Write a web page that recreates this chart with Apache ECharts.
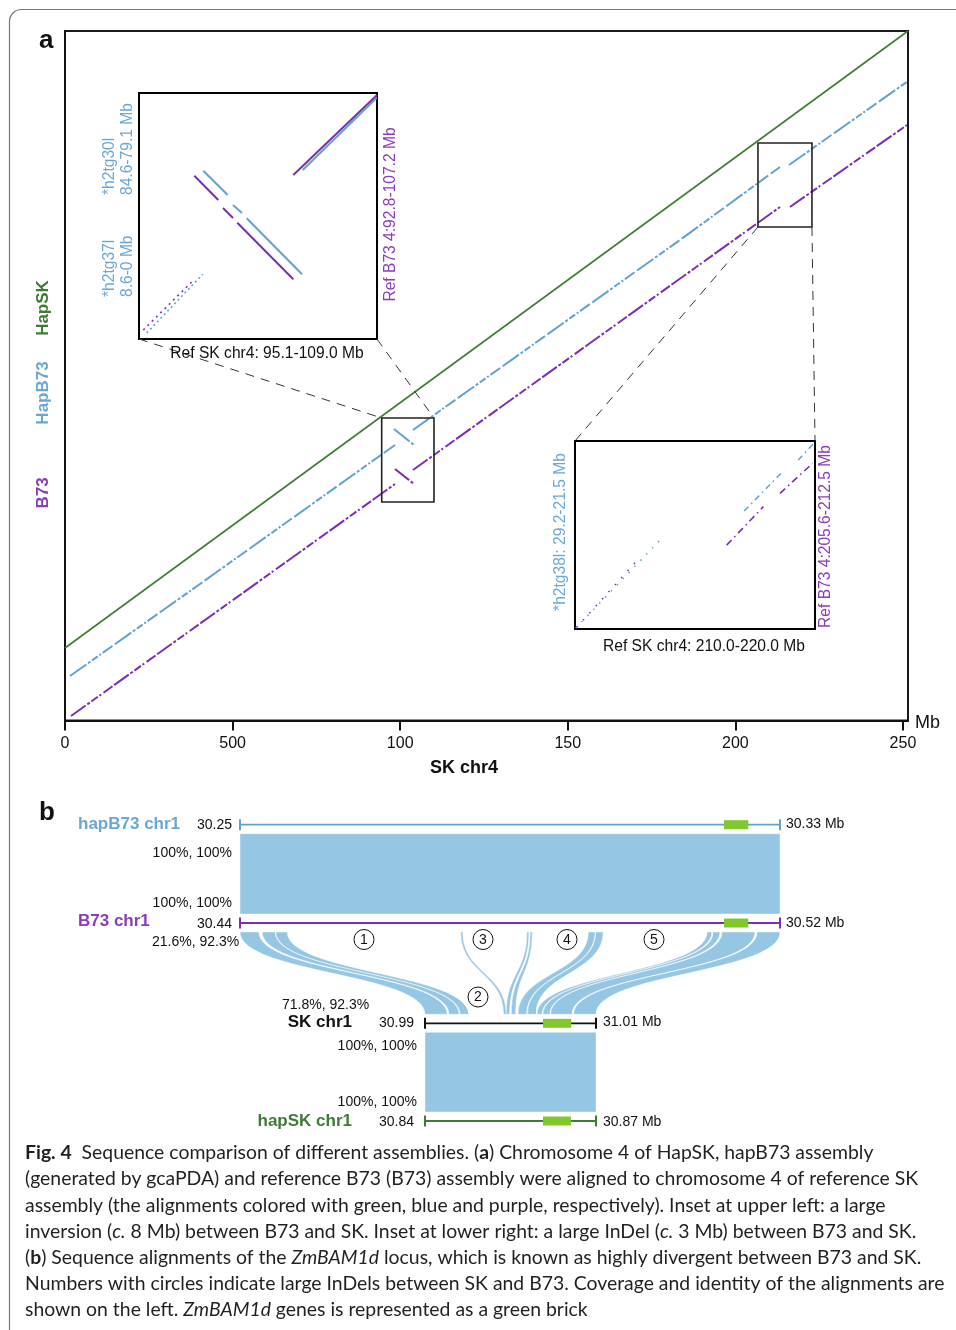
<!DOCTYPE html>
<html><head><meta charset="utf-8">
<script src="https://cdn.jsdelivr.net/npm/echarts@6/dist/echarts.min.js"></script>
<style>html,body{margin:0;padding:0;background:#fff}#c{width:956px;height:1330px}</style>
</head><body><div id="c"></div>
<script>
// ================= DATA =================
// Panel a: SK chr4 (x, Mb) vs stacked query positions (y)
const xTickValues = [0, 50, 100, 150, 200, 250];
const xTickLabels = ['0', '500', '100', '150', '200', '250'];
const hapSKLine = [[0, 29.44], [251.5, 280]];
const hapB73Segments = [
  [[1.49, 18.07], [40.27, 55.43], [98.45, 111.88]],
  [[98.15, 118.38], [104.12, 111.88]],
  [[103.82, 117.97], [183.47, 195.12], [213.31, 224.77]],
  [[215.99, 225.59], [251.19, 259.34]]
];
const b73Segments = [
  [[1.79, 1.83], [98.45, 96.04]],
  [[98.45, 102.13], [104.12, 96.04]],
  [[103.82, 101.72], [213.31, 208.53]],
  [[216.29, 208.53], [251.19, 241.81]]
];
const zoomBoxes = [[94.48, 88.73, 110.08, 122.84], [206.74, 200.41, 222.85, 234.52]];

// Inset 1: Ref SK chr4 95.1-109.0 (x) vs Ref B73 4:92.8-107.2 (y)
const inset1X = [95.1, 109.0];
const inset1Y = [92.8, 107.2];
const inset1BlueDotted = [[[95.55, 93.15], [98.82, 96.59]]];
const inset1BlueSolid = [
  [[98.855, 102.652], [100.28, 101.229]],
  [[100.59, 100.644], [101.116, 100.176]],
  [[101.39, 99.865], [104.62, 96.587]],
  [[104.66, 102.69], [109.0, 106.93]]
];
const inset1PurpleDotted = [[[95.35, 93.33], [98.33, 96.29]]];
const inset1PurpleSolid = [
  [[98.33, 102.359], [99.731, 100.937]],
  [[100.006, 100.468], [100.59, 99.883]],
  [[100.841, 99.608], [104.112, 96.295]],
  [[104.112, 102.4], [109.0, 107.083]]
];
// Inset 2: Ref SK chr4 210.0-220.0 (x) vs Ref B73 4:205.6-212.5 (y)
const inset2X = [210.0, 220.0];
const inset2Y = [205.6, 212.5];
const inset2BlueDotted = [[[210.03, 205.63], [213.68, 208.99]]];
const inset2BlueDashed = [[[217.05, 209.93], [218.61, 211.34]], [[219.3, 211.8], [220.0, 212.47]]];
const inset2PurpleDotted = [[[210.07, 205.66], [212.5, 208.03]]];
const inset2PurpleDashed = [[[216.32, 208.68], [217.85, 210.09]], [[218.54, 210.58], [219.9, 211.68]]];

// Panel b: tracks (Mb)
const trackNames = ['hapB73 chr1', 'B73 chr1', 'SK chr1', 'hapSK chr1'];
const trackStart = [30.25, 30.44, 30.99, 30.84];
const trackEnd = [30.33, 30.52, 31.01, 30.87];
const geneStart = [30.3217, 30.5117, 31.0038, 30.8607];
const geneEnd = [30.3253, 30.5153, 31.0071, 30.8656];
// full-length alignments: [fromTrack, toTrack]
const blockFrom = [0, 2];
const blockTo = [1, 3];
// B73 chr1 -> SK chr1 alignment ribbons
const ribbonB73Start = [30.4400, 30.4433, 30.4453, 30.4727, 30.4825, 30.4830, 30.4916, 30.4927, 30.5092, 30.5101, 30.5114, 30.5166];
const ribbonB73End   = [30.4428, 30.4452, 30.4470, 30.4730, 30.4828, 30.4833, 30.4926, 30.4938, 30.5099, 30.5111, 30.5163, 30.5200];
const ribbonSKStart  = [30.9900, 30.9928, 30.9941, 30.9992, 30.9995, 31.0001, 31.0009, 31.0020, 31.0031, 31.0038, 31.0047, 31.0074];
const ribbonSKEnd    = [30.9926, 30.9940, 30.9951, 30.9995, 30.9999, 31.0006, 31.0019, 31.0030, 31.0037, 31.0046, 31.0072, 31.0100];
const coverageLabels = ['100%, 100%', '100%, 100%', '21.6%, 92.3%', '71.8%, 92.3%', '100%, 100%', '100%, 100%'];
const indelLabels = ['1', '2', '3', '4', '5'];

// ================= STYLE =================
const FONT = '"Liberation Sans", Arial, sans-serif';
const GREEN = '#3e7c34', BLUE = '#62a2cf', PURPLE = '#7d2db3';
const BLUE_T = '#6aa8d4', PURPLE_T = '#8b3cba';
const RIBBON = '#95c6e3', BRICK = '#7fc92b';
const trackColors = [BLUE, PURPLE, '#111', GREEN];
const trackGrid = [3, 4, 5, 6];

const chart = echarts.init(document.getElementById('c'));

function segSeries(segs, grid, color, width, dash, z) {
  return {
    type: 'lines', coordinateSystem: 'cartesian2d', xAxisIndex: grid, yAxisIndex: grid,
    polyline: true, silent: true, z: z || 3, animation: false,
    data: segs.map(s => ({ coords: s })),
    lineStyle: { color: color, width: width, type: dash, opacity: 1, cap: 'butt' }
  };
}

const hiddenAxis = (g, mn, mx) => ({ type: 'value', gridIndex: g, min: mn, max: mx, show: false });

const xAxes = [
  {
    type: 'value', gridIndex: 0, min: 0, max: 251.5,
    axisLine: { show: true, onZero: false, lineStyle: { color: '#111', width: 2 } },
    axisTick: { show: true, customValues: xTickValues, length: 10, lineStyle: { color: '#111', width: 2 } },
    axisLabel: { customValues: xTickValues, formatter: v => xTickLabels[xTickValues.indexOf(v)] || '',
      fontSize: 16, color: '#111', fontFamily: FONT, margin: 15 },
    splitLine: { show: false }
  },
  hiddenAxis(1, inset1X[0], inset1X[1]),
  hiddenAxis(2, inset2X[0], inset2X[1])
];
const yAxes = [
  { type: 'value', gridIndex: 0, min: 0, max: 280,
    axisLine: { show: true, onZero: false, lineStyle: { color: '#111', width: 2 } },
    axisTick: { show: false }, axisLabel: { show: false }, splitLine: { show: false } },
  hiddenAxis(1, inset1Y[0], inset1Y[1]),
  hiddenAxis(2, inset2Y[0], inset2Y[1])
];
trackNames.forEach((n, i) => {
  xAxes.push(hiddenAxis(trackGrid[i], trackStart[i], trackEnd[i]));
  yAxes.push(hiddenAxis(trackGrid[i], -1, 1));
});

const series = [
  { type: 'line', xAxisIndex: 0, yAxisIndex: 0, data: hapSKLine, showSymbol: false, silent: true,
    lineStyle: { color: GREEN, width: 1.6 }, z: 3 },
  segSeries(hapB73Segments, 0, BLUE, 2, [20, 2, 3, 2, 7, 2, 2, 2, 12, 3]),
  segSeries(b73Segments, 0, PURPLE, 2, [18, 2, 3, 2, 8, 2, 2, 3, 11, 2]),
  { type: 'custom', xAxisIndex: 0, yAxisIndex: 0, data: zoomBoxes, silent: true, z: 4,
    encode: { x: [0, 2], y: [1, 3] },
    renderItem: (p, api) => {
      const a = api.coord([api.value(0), api.value(3)]);
      const b = api.coord([api.value(2), api.value(1)]);
      return { type: 'rect', shape: { x: a[0], y: a[1], width: b[0] - a[0], height: b[1] - a[1] },
        style: { fill: 'none', stroke: '#222', lineWidth: 1.6 } };
    } },
  segSeries(inset1BlueDotted, 1, BLUE, 1.6, [2, 3]),
  segSeries(inset1PurpleDotted, 1, PURPLE, 1.6, [2, 4]),
  segSeries(inset1BlueSolid, 1, BLUE, 2, 'solid'),
  segSeries(inset1PurpleSolid, 1, PURPLE, 2, 'solid'),
  segSeries(inset2BlueDotted, 2, BLUE, 1.5, [1.5, 7]),
  segSeries(inset2PurpleDotted, 2, PURPLE, 1.5, [1.5, 8]),
  segSeries(inset2BlueDashed, 2, BLUE, 1.5, [6, 4, 1.5, 4]),
  segSeries(inset2PurpleDashed, 2, PURPLE, 1.6, [7, 4, 1.5, 4])
];

// tracks and gene bricks
trackNames.forEach((n, i) => {
  series.push({ type: 'line', xAxisIndex: trackGrid[i], yAxisIndex: trackGrid[i], clip: false, silent: true,
    data: [[trackStart[i], 0], [trackEnd[i], 0]], symbol: 'rect', symbolSize: [2, 11], showSymbol: true,
    lineStyle: { color: trackColors[i], width: 1.8 }, itemStyle: { color: trackColors[i] }, z: 3 });
  series.push({ type: 'custom', xAxisIndex: trackGrid[i], yAxisIndex: trackGrid[i], clip: false, silent: true, z: 4,
    data: [[geneStart[i], geneEnd[i]]], encode: { x: [0, 1] },
    renderItem: (p, api) => {
      const a = api.coord([api.value(0), 0.5]);
      const b = api.coord([api.value(1), -0.5]);
      return { type: 'rect', shape: { x: a[0], y: a[1], width: b[0] - a[0], height: b[1] - a[1] }, style: { fill: BRICK } };
    } });
});

// alignment ribbons (full blocks + B73->SK pieces)
const ribbonRows = [];
blockFrom.forEach((f, i) => {
  const t = blockTo[i];
  ribbonRows.push([trackGrid[f], trackStart[f], trackEnd[f], trackGrid[t], trackStart[t], trackEnd[t]]);
});
ribbonB73Start.forEach((s, i) => {
  ribbonRows.push([trackGrid[1], s, ribbonB73End[i], trackGrid[2], ribbonSKStart[i], ribbonSKEnd[i]]);
});
series.push({ type: 'custom', coordinateSystem: 'none', silent: true, z: 2, data: ribbonRows,
  renderItem: (p, api) => {
    const fg = api.value(0), tg = api.value(3);
    const a1 = chart.convertToPixel({ gridIndex: fg }, [api.value(1), -1]);
    const a2 = chart.convertToPixel({ gridIndex: fg }, [api.value(2), -1]);
    const b1 = chart.convertToPixel({ gridIndex: tg }, [api.value(4), 1]);
    const b2 = chart.convertToPixel({ gridIndex: tg }, [api.value(5), 1]);
    const ym = (a1[1] + b1[1]) / 2;
    const d = `M${a1[0]},${a1[1]} C${a1[0]},${ym} ${b1[0]},${ym} ${b1[0]},${b1[1]} L${b2[0]},${b2[1]} C${b2[0]},${ym} ${a2[0]},${ym} ${a2[0]},${a2[1]} Z`;
    return { type: 'path', shape: { pathData: d }, style: { fill: RIBBON, stroke: 'rgba(255,255,255,0.85)', lineWidth: 0.5 } };
  } });

const grids = [
  { left: 65, top: 31, width: 843, height: 689.5, show: true, borderColor: '#1a1a1a', borderWidth: 2 },
  { left: 139, top: 93, width: 238, height: 246, show: true, borderColor: '#000', borderWidth: 2, backgroundColor: '#fff' },
  { left: 575, top: 441, width: 240, height: 188, show: true, borderColor: '#000', borderWidth: 2, backgroundColor: '#fff' },
  { left: 240, top: 815.7, width: 540, height: 18 },
  { left: 240, top: 914, width: 540, height: 18 },
  { left: 425, top: 1014.3, width: 171, height: 18 },
  { left: 425, top: 1112, width: 171, height: 18 }
];

chart.setOption({ animation: false, grid: grids, xAxis: xAxes, yAxis: yAxes, series: series });

// ================= ANNOTATIONS =================
const g = [];
function txt(x, y, text, o) {
  o = o || {};
  g.push({ type: 'text', x: x, y: y, rotation: o.rot || 0, z: 100, silent: true,
    style: { text: text, fill: o.color || '#111', font: (o.weight || 'normal') + ' ' + (o.size || 14) + 'px ' + (o.family || FONT),
      align: o.align || 'left', verticalAlign: o.va || 'middle', rich: o.rich } });
}
function dashLine(p, q) {
  g.push({ type: 'line', silent: true, z: 50, shape: { x1: p[0], y1: p[1], x2: q[0], y2: q[1] },
    style: { stroke: '#333', lineWidth: 1, lineDash: [9, 7] } });
}
// outer frame
g.push({ type: 'rect', silent: true, z: 0, shape: { x: 9.5, y: 9.5, width: 1200, height: 1500, r: 12 },
  style: { fill: 'none', stroke: '#777', lineWidth: 1.2 } });

// connectors
const b1 = zoomBoxes[0], b2 = zoomBoxes[1];
dashLine(chart.convertToPixel({ gridIndex: 1 }, [inset1X[0], inset1Y[0]]), chart.convertToPixel({ gridIndex: 0 }, [b1[0], b1[3]]));
dashLine(chart.convertToPixel({ gridIndex: 1 }, [inset1X[1], inset1Y[0]]), chart.convertToPixel({ gridIndex: 0 }, [b1[2], b1[3]]));
dashLine(chart.convertToPixel({ gridIndex: 0 }, [b2[0], b2[1]]), chart.convertToPixel({ gridIndex: 2 }, [inset2X[0], inset2Y[1]]));
dashLine(chart.convertToPixel({ gridIndex: 0 }, [b2[2], b2[1]]), chart.convertToPixel({ gridIndex: 2 }, [inset2X[1], inset2Y[1]]));

// panel a labels
txt(39, 41, 'a', { weight: 'bold', size: 26 });
txt(43, 308, 'HapSK', { weight: 'bold', size: 17, color: GREEN, align: 'center', rot: Math.PI / 2 });
txt(43, 393, 'HapB73', { weight: 'bold', size: 17, color: BLUE_T, align: 'center', rot: Math.PI / 2 });
txt(43, 493, 'B73', { weight: 'bold', size: 17, color: PURPLE_T, align: 'center', rot: Math.PI / 2 });
txt(464, 768, 'SK chr4', { weight: 'bold', size: 18, align: 'center' });
txt(915, 723, 'Mb', { size: 18 });
// inset 1 labels
txt(110, 195, '*h2tg30l', { size: 15.6, color: BLUE_T, rot: Math.PI / 2 });
txt(128, 195, '84.6-79.1 Mb', { size: 15.6, color: BLUE_T, rot: Math.PI / 2 });
txt(110, 297, '*h2tg37l', { size: 15.6, color: BLUE_T, rot: Math.PI / 2 });
txt(128, 297, '8.6-0 Mb', { size: 15.6, color: BLUE_T, rot: Math.PI / 2 });
txt(391, 214.5, 'Ref B73 4:92.8-107.2 Mb', { size: 15.6, color: PURPLE_T, align: 'center', rot: Math.PI / 2 });
txt(267, 354, 'Ref SK chr4: 95.1-109.0 Mb', { size: 15.6, align: 'center' });
// inset 2 labels
txt(561, 532, '*h2tg38l: 29.2-21.5 Mb', { size: 15.6, color: BLUE_T, align: 'center', rot: Math.PI / 2 });
txt(826, 536.5, 'Ref B73 4:205.6-212.5 Mb', { size: 15.6, color: PURPLE_T, align: 'center', rot: Math.PI / 2 });
txt(704, 647, 'Ref SK chr4: 210.0-220.0 Mb', { size: 15.6, align: 'center' });

// panel b labels
txt(39, 813, 'b', { weight: 'bold', size: 26 });
txt(78, 824, trackNames[0], { weight: 'bold', size: 17, color: BLUE_T });
txt(78, 921, trackNames[1], { weight: 'bold', size: 17, color: PURPLE_T });
txt(352, 1022, trackNames[2], { weight: 'bold', size: 17, align: 'right' });
txt(352, 1121, trackNames[3], { weight: 'bold', size: 17, color: GREEN, align: 'right' });
txt(232, 825, trackStart[0].toFixed(2), { size: 14, align: 'right' });
txt(232, 924, trackStart[1].toFixed(2), { size: 14, align: 'right' });
txt(414, 1023, trackStart[2].toFixed(2), { size: 14, align: 'right' });
txt(414, 1122, trackStart[3].toFixed(2), { size: 14, align: 'right' });
txt(786, 824, trackEnd[0].toFixed(2) + ' Mb', { size: 14 });
txt(786, 923, trackEnd[1].toFixed(2) + ' Mb', { size: 14 });
txt(603, 1022, trackEnd[2].toFixed(2) + ' Mb', { size: 14 });
txt(603, 1122, trackEnd[3].toFixed(2) + ' Mb', { size: 14 });
txt(232, 853, coverageLabels[0], { size: 14, align: 'right' });
txt(232, 903, coverageLabels[1], { size: 14, align: 'right' });
txt(152, 942, coverageLabels[2], { size: 14 });
txt(282, 1005, coverageLabels[3], { size: 14 });
txt(417, 1046, coverageLabels[4], { size: 14, align: 'right' });
txt(417, 1102, coverageLabels[5], { size: 14, align: 'right' });
const circlePos = [[364, 939.5], [478, 997], [483, 939.5], [567, 939.5], [654, 939.5]];
indelLabels.forEach((l, i) => {
  g.push({ type: 'circle', silent: true, z: 60, shape: { cx: circlePos[i][0], cy: circlePos[i][1], r: 10 },
    style: { fill: 'none', stroke: '#111', lineWidth: 1 } });
  txt(circlePos[i][0], circlePos[i][1] + 0.5, l, { size: 14, align: 'center' });
});

// caption
const CF = 'Lato, "Open Sans", sans-serif';
const CS = 19.4;
const rich = {
  b: { fontWeight: 'bold', fontSize: CS, fontFamily: CF, fill: '#231f20' },
  i: { fontStyle: 'italic', fontSize: CS, fontFamily: CF, fill: '#231f20' },
  n: { fontSize: CS, fontFamily: CF, fill: '#231f20' }
};
const captionLines = [
  '{b|Fig. 4}{n|  Sequence comparison of different assemblies. (}{b|a}{n|) Chromosome 4 of HapSK, hapB73 assembly}',
  '{n|(generated by gcaPDA) and reference B73 (B73) assembly were aligned to chromosome 4 of reference SK}',
  '{n|assembly (the alignments colored with green, blue and purple, respectively). Inset at upper left: a large}',
  '{n|inversion (}{i|c.}{n| 8 Mb) between B73 and SK. Inset at lower right: a large InDel (}{i|c.}{n| 3 Mb) between B73 and SK.}',
  '{n|(}{b|b}{n|) Sequence alignments of the }{i|ZmBAM1d}{n| locus, which is known as highly divergent between B73 and SK.}',
  '{n|Numbers with circles indicate large InDels between SK and B73. Coverage and identity of the alignments are}',
  '{n|shown on the left. }{i|ZmBAM1d}{n| genes is represented as a green brick}'
];
captionLines.forEach((l, i) => {
  txt(25, 1153 + i * 26.2, l, { size: CS, family: CF, color: '#231f20', rich: rich });
});

chart.setOption({ graphic: g });
</script></body></html>
